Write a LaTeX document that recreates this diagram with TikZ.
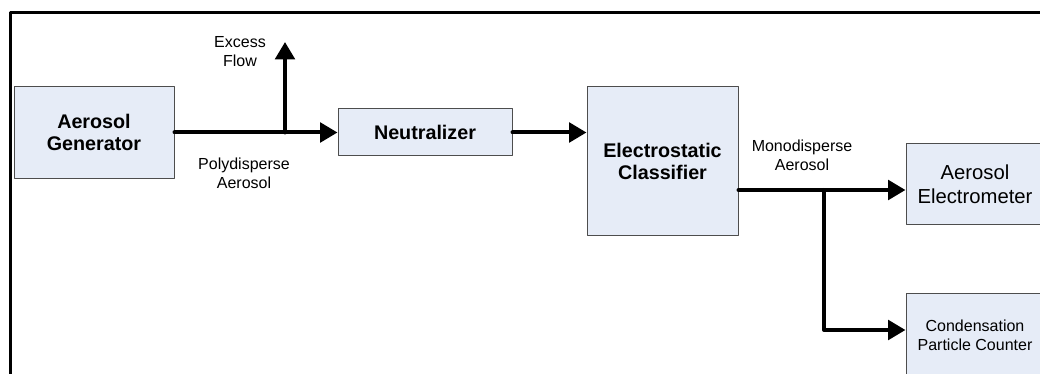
\documentclass[tikz,border=0pt]{standalone}
\usepackage{fontspec}
\setmainfont{Liberation Sans}
\usetikzlibrary{arrows.meta}
\definecolor{boxfill}{HTML}{E6ECF7}
\definecolor{boxline}{HTML}{4D4D4D}

\begin{document}
\begin{tikzpicture}[line cap=round,line join=round,x=0.75pt,y=0.75pt,
  unit/.style={draw=boxline,fill=boxfill,line width=0.75pt,align=center,inner sep=2pt},
  boldtext/.style={font=\fontsize{14.8}{16.5}\selectfont\bfseries},
  pipe/.style={line width=3pt},
  flow/.style={pipe,-{Triangle[length=13pt,width=14.5pt]}},
  tag/.style={align=center,inner sep=0pt,font=\fontsize{12}{14.25}\selectfont}]
\useasboundingbox (0,0) rectangle (1040,-374);
\clip (0,0) rectangle (1040,-374);

\draw[line width=2.25pt,line cap=butt] (10,-380) -- (10,-13) -- (1050,-13);

\node[unit,boldtext,minimum width=120pt,minimum height=69pt] (gen) at (94,-132.5) {Aerosol\\Generator};
\node[unit,boldtext,minimum width=130.5pt,minimum height=35.25pt] (neut) at (425,-132.5) {Neutralizer};
\node[unit,boldtext,font=\fontsize{14.8}{17}\selectfont\bfseries,minimum width=113.25pt,minimum height=111.75pt] (cls) at (662.5,-161.5) {Electrostatic\\Classifier};
\node[unit,font=\fontsize{15.2}{18}\selectfont,minimum width=103.5pt,minimum height=60.75pt] (elec) at (975,-184.5) {Aerosol\\Electrometer};
\node[unit,font=\fontsize{12}{14.5}\selectfont,minimum width=103.5pt,minimum height=61.5pt] (cpc) at (975,-335) {Condensation\\Particle Counter};

\coordinate (split) at (285,-132.5);
\coordinate (vent) at (285,-42);
\draw[pipe] (gen.east) -- (split);
\draw[flow] (split) -- (neut.west);
\draw[flow] (split) -- (vent);

\draw[flow] (neut.east) -- (neut.east -| cls.west);

\coordinate (tap) at (824,-190);
\coordinate (bend) at (824,-330);
\draw[flow] (cls.east |- tap) -- (tap -| elec.west);
\draw[flow] (tap) -- (bend) -- (bend -| cpc.west);

\node[tag] (excesslabel) at (240,-52) {Excess\\Flow};
\node[tag] (polylabel) at (244,-173) {Polydisperse\\Aerosol};
\node[tag] (monolabel) at (802,-155.5) {Monodisperse\\Aerosol};

\end{tikzpicture}
\end{document}
